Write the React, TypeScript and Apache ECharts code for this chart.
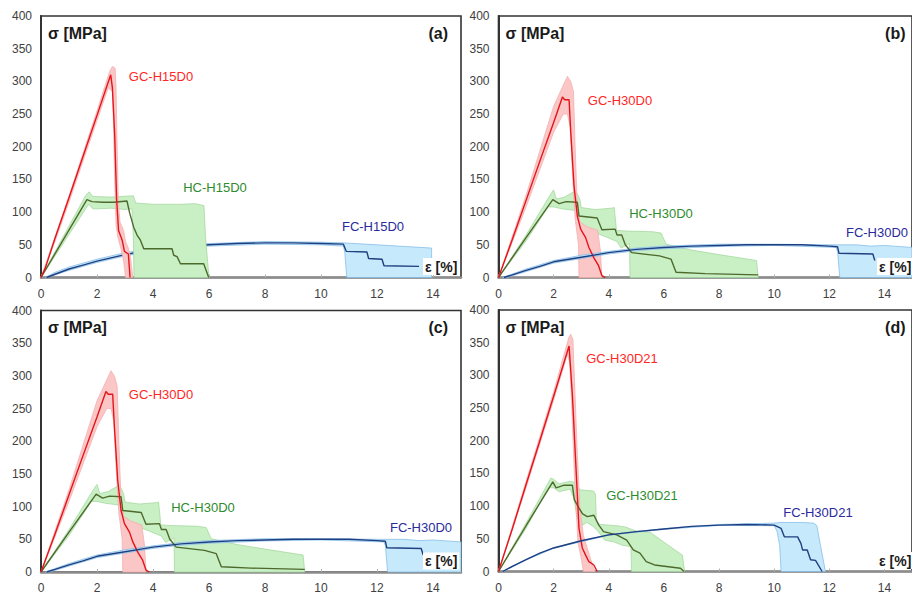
import { useEffect, useRef } from "react";
import * as echarts from "echarts";

type Pt = [number, number];

// ---------- (a) H15D0 : strain [%], stress [MPa] ----------
const gcH15D0: Pt[] = [
  [0, 0], [0.15, 14], [0.5, 60], [1, 122], [1.5, 185], [2, 248], [2.49, 310],
  [2.55, 290], [2.63, 220], [2.7, 120], [2.77, 72], [2.9, 57], [2.98, 40],
  [3.12, 36], [3.18, 0],
];
const gcH15D0Band: Pt[] = [
  [0, 0], [0.5, 62], [1, 125], [1.5, 190], [2, 255], [2.45, 315], [2.55, 323],
  [2.65, 320], [2.68, 290], [2.72, 200], [2.76, 120], [2.82, 85], [2.95, 72],
  [3.02, 55], [3.12, 45], [3.2, 30], [3.28, 0],
  [3.02, 0], [2.95, 25], [2.85, 45], [2.75, 60], [2.68, 80], [2.63, 150],
  [2.58, 250], [2.55, 285], [2.4, 290], [2, 240], [1.5, 178], [1, 115],
  [0.5, 55], [0, 0],
];
const hcH15D0: Pt[] = [
  [0, 0], [1.64, 119], [1.82, 116], [2.2, 115], [2.6, 115], [3.07, 117],
  [3.17, 98], [3.31, 77], [3.43, 65], [3.55, 57], [3.67, 44], [4.68, 44],
  [4.74, 34], [4.86, 32], [4.98, 21], [5.81, 21], [5.99, 0],
];
const hcH15D0Band: Pt[] = [
  [0, 0], [1.6, 126], [1.72, 131], [1.85, 124], [2.5, 123], [3.3, 125],
  [3.38, 114], [4, 112], [5, 112], [5.5, 113], [5.82, 110], [5.88, 60], [6.0, 0],
  [3.32, 0], [3.3, 60], [3.25, 105], [3.0, 104], [2.5, 106], [2, 105],
  [1.85, 105], [1.7, 112], [0, 0],
];
const fcH15D0: Pt[] = [
  [0.2, 0], [0.5, 5], [1, 13], [1.5, 19], [2, 25], [2.5, 30], [3, 35],
  [3.5, 39], [4, 42], [5, 47], [6, 50], [7, 52], [8, 53], [9, 53], [10, 52],
  [10.8, 51], [10.9, 40], [11.64, 39], [11.7, 29], [12.18, 28], [12.25, 18],
  [13.5, 17],
];
const fcH15D0Band: Pt[] = [
  [0.15, 0], [0.5, 8], [1, 16], [2, 28], [3, 38], [4, 45], [5, 50], [6, 52],
  [8, 55], [10, 54], [10.8, 53], [12, 50], [13.95, 45], [13.95, 0],
  [10.92, 0], [10.85, 38], [10.8, 48], [10, 50], [8, 51], [6, 48], [5, 45],
  [4, 40], [3, 33], [2, 23], [1, 11], [0.5, 4], [0.25, 0],
];

// ---------- (b), (c) H30D0 ----------
const gcH30D0: Pt[] = [
  [0, 0], [0.5, 58], [1, 118], [1.5, 178], [2, 237], [2.32, 276], [2.4, 272],
  [2.56, 272], [2.62, 223], [2.74, 140], [2.86, 94], [2.98, 74], [3.16, 61],
  [3.28, 46], [3.46, 30], [3.63, 18], [3.75, 3], [3.87, 0],
];
const gcH30D0Band: Pt[] = [
  [0, 0], [1, 126], [2, 262], [2.5, 308], [2.62, 300], [2.72, 285],
  [2.78, 200], [2.85, 120], [2.95, 85], [3.2, 78], [3.6, 72], [3.7, 40], [3.75, 0],
  [2.92, 0], [2.9, 50], [2.78, 90], [2.68, 160], [2.6, 230], [2.5, 250],
  [2.35, 250], [2, 222], [1, 108], [0, 0],
];
const hcH30D0: Pt[] = [
  [0, 0], [1, 61], [1.97, 119], [2.2, 113], [2.45, 116], [2.86, 115],
  [2.92, 94], [3.58, 91], [3.75, 73], [4.23, 74], [4.3, 65], [4.47, 65],
  [4.6, 50], [4.83, 38], [5.84, 33], [6.26, 28], [6.44, 8], [7.5, 6], [9.42, 4],
];
const hcH30D0Band: Pt[] = [
  [0, 0], [1, 65], [1.9, 128], [2.0, 134], [2.1, 120], [2.4, 123], [2.8, 133],
  [2.95, 120], [3.0, 107], [3.5, 104], [4.1, 106], [4.2, 107], [4.28, 72],
  [4.65, 71], [5.6, 70], [5.9, 68], [6.08, 51], [7, 42], [8, 35], [9.36, 26],
  [9.42, 0],
  [4.77, 0], [4.75, 52], [4.45, 45], [4.3, 55], [3.9, 62], [3.6, 67],
  [3.0, 62], [2.92, 58], [2.9, 100], [2.7, 103], [2.3, 105], [2.0, 108],
  [1.8, 108], [1, 56], [0, 0],
];
const fcH30D0: Pt[] = [
  [0.2, 0], [0.5, 4], [1, 11], [1.5, 17], [2, 24], [3, 31], [4, 38], [5, 43],
  [6, 46], [7, 48], [8, 49], [9, 50], [10, 50], [11, 50], [12, 48],
  [12.3, 47], [12.35, 37], [13.58, 36], [13.65, 26],
];
const fcH30D0Band: Pt[] = [
  [0.15, 0], [1, 13], [2, 26], [3, 34], [4, 40], [5, 45], [6, 48], [8, 51],
  [10, 51], [12, 50], [12.3, 50], [13, 50], [13.5, 48], [14, 49], [15, 46],
  [15, 0],
  [12.38, 0], [12.3, 40], [12.25, 46], [10, 49], [8, 47.5], [6, 44], [5, 41],
  [4, 36], [3, 29], [2, 22], [1, 9], [0.3, 0],
];

// ---------- (d) H30D21 ----------
const gcH30D21: Pt[] = [
  [0, 0], [0.5, 65], [1, 133], [1.5, 200], [2, 268], [2.56, 345], [2.68, 270],
  [2.8, 168], [2.92, 66], [3.04, 36], [3.16, 25], [3.28, 15], [3.46, 10],
  [3.58, 0],
];
const gcH30D21Band: Pt[] = [
  [0, 0], [1, 138], [2, 275], [2.55, 358], [2.62, 363], [2.7, 355],
  [2.76, 290], [2.85, 190], [2.95, 100], [3.08, 55], [3.3, 25], [3.45, 5], [3.5, 0],
  [3.08, 0], [3.0, 20], [2.88, 45], [2.75, 150], [2.65, 260], [2.58, 320],
  [2.5, 332], [2, 262], [1, 128], [0, 0],
];
const hcH30D21: Pt[] = [
  [0, 0], [1, 70], [1.97, 137], [2.09, 128], [2.38, 132], [2.68, 132],
  [2.75, 110], [2.92, 97], [3.05, 88], [3.22, 84], [3.46, 86], [3.64, 71],
  [3.81, 61], [4.29, 56], [4.65, 48], [4.89, 33], [5.13, 28], [5.36, 15],
  [5.66, 10], [6.6, 5], [6.73, 0],
];
const hcH30D21Band: Pt[] = [
  [0, 0], [1, 74], [1.9, 143], [2.0, 141], [2.2, 134], [2.6, 138], [2.8, 136],
  [2.95, 125], [3.45, 123], [3.52, 118], [3.55, 75], [3.7, 72], [4.3, 70],
  [4.6, 68], [5.0, 62], [5.5, 60], [6.0, 45], [6.67, 25], [6.75, 0],
  [4.83, 0], [4.8, 38], [4.5, 40], [4.2, 45], [3.85, 48], [3.6, 62],
  [3.4, 70], [3.2, 75], [3.0, 70], [2.85, 80], [2.75, 110], [2.6, 126],
  [2.2, 122], [2.0, 128], [1.8, 128], [1, 66], [0, 0],
];
const fcH30D21: Pt[] = [
  [0.15, 0], [0.5, 8], [1, 18], [1.5, 28], [2, 36], [3, 47], [4, 56], [5, 61],
  [6, 65], [7, 69], [8, 71], [9, 72], [10, 71], [10.25, 66], [10.37, 53],
  [10.85, 53], [10.97, 43], [11.03, 33], [11.2, 33], [11.32, 18], [11.5, 17],
  [11.74, 0],
];
const fcH30D21Band: Pt[] = [
  [0.15, 0], [1, 18.5], [2, 36.5], [4, 56.5], [6, 65.5], [8, 72], [9, 73], [10, 74],
  [10.2, 75], [11, 75], [11.44, 74], [11.55, 70], [11.68, 40], [11.86, 0],
  [10.25, 0], [10.2, 40], [10.1, 62], [10, 70], [8, 70.5], [6, 64.5], [4, 55.5],
  [2, 35.5], [1, 17.5], [0.18, 0],
];

// axis ranges
const STRAIN_MAX = 15;
const STRAIN_STEP = 2;
const STRESS_MAX = 400;
const STRESS_STEP = 50;

const FONT = "'Liberation Sans', Arial, Helvetica, sans-serif";

const RED = { line: "#e5141b", fill: "#fac6c6", edge: "#f3aaaa", text: "#ff2626" };
const GREEN = { line: "#4d6a2c", fill: "#c9efc4", edge: "#9fd69a", text: "#2e8b2e" };
const BLUE = { line: "#1f3f80", fill: "#c6e9fb", edge: "#7db8e6", text: "#2a2a9c" };

type Curve = { data: Pt[]; band: Pt[]; c: typeof RED };
type Label = { text: string; x: number; y: number; color: string };
type Layer = { kind: "band" | "line"; curve: Curve };
type Panel = {
  grid: { left: number; top: number; width: number; height: number };
  tag: string;
  strainLabelX: number;
  layers: Layer[];
  labels: Label[];
};

const gcA: Curve = { data: gcH15D0, band: gcH15D0Band, c: RED };
const hcA: Curve = { data: hcH15D0, band: hcH15D0Band, c: GREEN };
const fcA: Curve = { data: fcH15D0, band: fcH15D0Band, c: BLUE };
const gcB: Curve = { data: gcH30D0, band: gcH30D0Band, c: RED };
const hcB: Curve = { data: hcH30D0, band: hcH30D0Band, c: GREEN };
const fcB: Curve = { data: fcH30D0, band: fcH30D0Band, c: BLUE };
const gcD: Curve = { data: gcH30D21, band: gcH30D21Band, c: RED };
const hcD: Curve = { data: hcH30D21, band: hcH30D21Band, c: GREEN };
const fcD: Curve = { data: fcH30D21, band: fcH30D21Band, c: BLUE };

const stackH30 = (gc: Curve, hc: Curve, fc: Curve): Layer[] => [
  { kind: "band", curve: hc },
  { kind: "band", curve: gc },
  { kind: "band", curve: fc },
  { kind: "line", curve: hc },
  { kind: "line", curve: gc },
  { kind: "line", curve: fc },
];

const panels: Panel[] = [
  {
    grid: { left: 41, top: 16, width: 420, height: 261.5 },
    tag: "(a)",
    strainLabelX: 423,
    layers: [
      { kind: "band", curve: fcA },
      { kind: "line", curve: fcA },
      { kind: "band", curve: hcA },
      { kind: "band", curve: gcA },
      { kind: "line", curve: hcA },
      { kind: "line", curve: gcA },
    ],
    labels: [
      { text: "GC-H15D0", x: 161, y: 76, color: RED.text },
      { text: "HC-H15D0", x: 215, y: 187, color: GREEN.text },
      { text: "FC-H15D0", x: 373, y: 226, color: BLUE.text },
    ],
  },
  {
    grid: { left: 498.5, top: 16, width: 420, height: 261.5 },
    tag: "(b)",
    strainLabelX: 877,
    layers: stackH30(gcB, hcB, fcB),
    labels: [
      { text: "GC-H30D0", x: 620, y: 100, color: RED.text },
      { text: "HC-H30D0", x: 661, y: 213, color: GREEN.text },
      { text: "FC-H30D0", x: 877, y: 232, color: BLUE.text },
    ],
  },
  {
    grid: { left: 41, top: 310.5, width: 420, height: 261.5 },
    tag: "(c)",
    strainLabelX: 423,
    layers: stackH30(gcB, hcB, fcB),
    labels: [
      { text: "GC-H30D0", x: 161, y: 394, color: RED.text },
      { text: "HC-H30D0", x: 203, y: 507, color: GREEN.text },
      { text: "FC-H30D0", x: 421, y: 527, color: BLUE.text },
    ],
  },
  {
    grid: { left: 498.5, top: 310, width: 420, height: 261.5 },
    tag: "(d)",
    strainLabelX: 877,
    layers: stackH30(gcD, hcD, fcD),
    labels: [
      { text: "GC-H30D21", x: 622, y: 358, color: RED.text },
      { text: "GC-H30D21", x: 642, y: 495, color: GREEN.text },
      { text: "FC-H30D21", x: 818, y: 512, color: BLUE.text },
    ],
  },
];

function buildOption(): echarts.EChartsOption {
  const grid: any[] = [];
  const xAxis: any[] = [];
  const yAxis: any[] = [];
  const series: any[] = [];
  const graphic: any[] = [];

  panels.forEach((p, i) => {
    grid.push({
      ...p.grid,
      show: true,
      borderColor: "#333333",
      borderWidth: 1.6,
      backgroundColor: "#ffffff",
    });
    xAxis.push({
      type: "value",
      gridIndex: i,
      min: 0,
      max: STRAIN_MAX,
      interval: STRAIN_STEP,
      axisLine: { show: true, lineStyle: { color: "#8c8c8c", width: 2.5 } },
      axisTick: { show: true, inside: true, length: 3, lineStyle: { color: "#b0b0b0" } },
      splitLine: { show: false },
      axisLabel: {
        color: "#404040",
        fontSize: 12,
        fontFamily: FONT,
        margin: 10,
        showMaxLabel: false,
        formatter: (v: number) => (v % STRAIN_STEP === 0 ? String(v) : ""),
      },
    });
    yAxis.push({
      type: "value",
      gridIndex: i,
      min: 0,
      max: STRESS_MAX,
      interval: STRESS_STEP,
      axisLine: { show: true, lineStyle: { color: "#333333", width: 2 } },
      axisTick: { show: false },
      splitLine: { show: false },
      axisLabel: { color: "#404040", fontSize: 12, fontFamily: FONT, margin: 9 },
    });

    p.layers.forEach((layer, k) => {
      const { curve } = layer;
      if (layer.kind === "band") {
        const poly = curve.band;
        series.push({
          type: "custom",
          xAxisIndex: i,
          yAxisIndex: i,
          z: 2 + k,
          silent: true,
          data: [poly[0]],
          renderItem: (_params: any, api: any) => ({
            type: "polygon",
            shape: { points: poly.map((pt) => api.coord(pt)) },
            style: {
              fill: curve.c.fill,
              stroke: curve.c.edge,
              lineWidth: 0.7,
            },
          }),
        });
      } else {
        series.push({
          type: "line",
          xAxisIndex: i,
          yAxisIndex: i,
          z: 2 + k,
          data: curve.data,
          showSymbol: false,
          symbol: "none",
          silent: true,
          lineStyle: { color: curve.c.line, width: 1.4 },
        });
      }
    });

    const g = p.grid;
    const right = g.left + g.width;
    const bottom = g.top + g.height;
    graphic.push(
      {
        type: "text",
        z: 100,
        x: g.left + 7,
        y: g.top + 17,
        style: {
          text: "σ [MPa]",
          fill: "#1a1a1a",
          font: `bold 16px ${FONT}`,
          align: "left",
          verticalAlign: "middle",
        },
      },
      {
        type: "text",
        z: 100,
        x: Math.min(right - 13, 908),
        y: g.top + 17,
        style: {
          text: p.tag,
          fill: "#1a1a1a",
          font: `bold 16px ${FONT}`,
          align: "right",
          verticalAlign: "middle",
        },
      },
      {
        type: "text",
        z: 100,
        x: p.strainLabelX,
        y: bottom - 11,
        style: {
          text: "ε [%]",
          fill: "#1a1a1a",
          font: `bold 14px ${FONT}`,
          align: "left",
          verticalAlign: "middle",
          backgroundColor: "#ffffff",
          padding: [2, 2, 1, 2],
        },
      }
    );
    p.labels.forEach((l) =>
      graphic.push({
        type: "text",
        z: 100,
        x: l.x,
        y: l.y,
        style: {
          text: l.text,
          fill: l.color,
          font: `13px ${FONT}`,
          align: "center",
          verticalAlign: "middle",
        },
      })
    );
  });

  return {
    animation: false,
    backgroundColor: "#ffffff",
    grid,
    xAxis,
    yAxis,
    series,
    graphic,
  };
}

export default function App() {
  const ref = useRef<HTMLDivElement>(null);
  useEffect(() => {
    if (!ref.current) return;
    const chart = echarts.init(ref.current, undefined, { renderer: "svg" });
    chart.setOption(buildOption());
    return () => chart.dispose();
  }, []);
  return (
    <div
      ref={ref}
      style={{ position: "fixed", left: 0, top: 0, width: 912, height: 596, background: "#fff" }}
    />
  );
}
